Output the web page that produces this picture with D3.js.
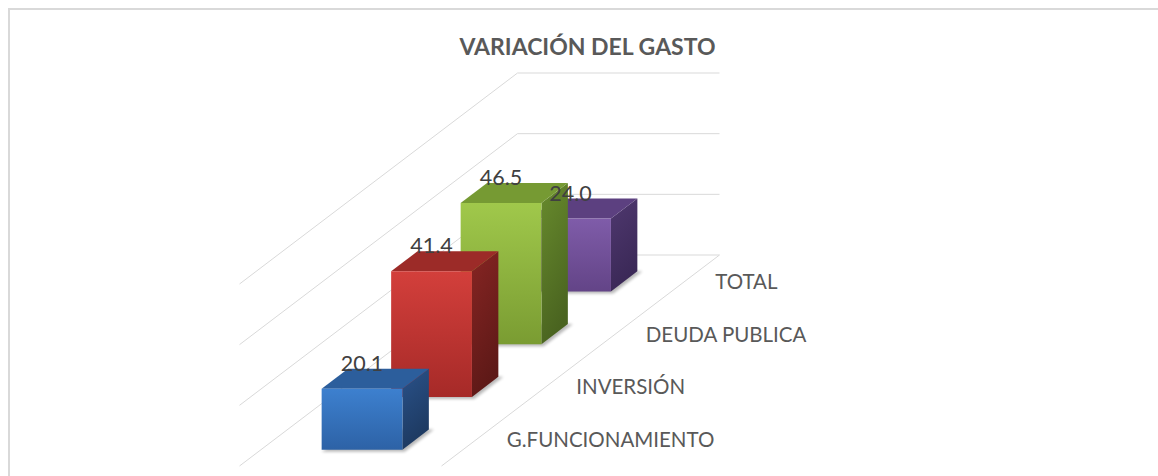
<!DOCTYPE html>
<html>
<head>
<meta charset="utf-8">
<script src="https://cdn.jsdelivr.net/npm/d3@7/dist/d3.min.js"></script>
<style>
  html, body { margin: 0; padding: 0; background: #fff; }
  svg { display: block; }
</style>
</head>
<body>
<svg id="chart" width="1158" height="476"></svg>
<script>
// ---- data ----
const title = "VARIACIÓN DEL GASTO";
const categories = ["G.FUNCIONAMIENTO", "INVERSIÓN", "DEUDA PUBLICA", "TOTAL"];
const values = [20.1, 41.4, 46.5, 24.0];
const tickValues = [0, 20, 40, 60];

// ---- styles ----
const palette = [
  { front: ["#3D80CF", "#2D62A6"], top: "#2C5E9C", side: ["#2A528A", "#1D3960"] },
  { front: ["#D33F3B", "#A62A28"], top: "#9C2B28", side: ["#862523", "#5E1917"] },
  { front: ["#A0C84B", "#7A9C32"], top: "#769A33", side: ["#688B2D", "#4A6420"] },
  { front: ["#7F5CA9", "#634487"], top: "#5C4080", side: ["#4F386F", "#3A2856"] }
];

const svg = d3.select("#chart");
const defs = svg.append("defs");

// frame
svg.append("rect")
  .attr("x", 9).attr("y", 9).attr("width", 1300).attr("height", 600)
  .attr("fill", "#fff").attr("stroke", "#d9d9d9").attr("stroke-width", 2);

// projection geometry
const O = { x: 239.5, y: 466 };   // front-left corner of floor
const floorW = 202;               // floor width (px)
const DX = 69.5, DY = 52.75;      // screen offset per depth slot

const yH = d3.scaleLinear().domain([0, 60]).range([0, 182]);
const depth = d3.scaleBand().domain(categories).range([0, categories.length])
  .paddingInner(0.62).paddingOuter(0.31);
const wScale = d3.scaleLinear().domain([0, 1]).range([0, floorW]);

function P(w, d, h) { return [O.x + w + d * DX, O.y - d * DY - h]; }
const line = d3.line();

const nSlots = categories.length;

// gridlines (back wall + side wall)
const grid = svg.append("g").attr("fill", "none").attr("stroke", "#d9d9d9").attr("stroke-width", 1);
tickValues.forEach(t => {
  const h = yH(t);
  grid.append("path").attr("d", line([P(0, 0, h), P(0, nSlots, h), P(floorW, nSlots, h)]));
});
// floor right edge
grid.append("path").attr("d", line([P(floorW, 0, 0), P(floorW, nSlots, 0)]));

// shadow filter
const filt = defs.append("filter").attr("id", "sh").attr("x", "-20%").attr("y", "-20%").attr("width", "140%").attr("height", "140%");
filt.append("feGaussianBlur").attr("stdDeviation", 1.6);

// gradients
palette.forEach((p, i) => {
  const gf = defs.append("linearGradient").attr("id", "gf" + i).attr("x1", 0).attr("y1", 0).attr("x2", 0).attr("y2", 1);
  gf.append("stop").attr("offset", "0%").attr("stop-color", p.front[0]);
  gf.append("stop").attr("offset", "100%").attr("stop-color", p.front[1]);
  const gs = defs.append("linearGradient").attr("id", "gs" + i).attr("x1", 0).attr("y1", 0).attr("x2", 0.3).attr("y2", 1);
  gs.append("stop").attr("offset", "0%").attr("stop-color", p.side[0]);
  gs.append("stop").attr("offset", "100%").attr("stop-color", p.side[1]);
});

const bars = svg.append("g");
const w0 = wScale(0.3), w1 = wScale(0.7);
// draw back to front
const order = d3.range(categories.length).reverse();
order.forEach(i => {
  const c = categories[i];
  const d0 = depth(c), d1 = d0 + depth.bandwidth();
  const h = yH(values[i]);
  const g = bars.append("g");
  // shadow on floor
  g.append("path")
    .attr("d", line([P(w0 + 3, d0 - 0.04, 0), P(w1 + 5, d0 - 0.04, 0), P(w1 + 5, d1, 0), P(w0 + 3, d1, 0)]) + "Z")
    .attr("fill", "#000").attr("opacity", 0.28).attr("filter", "url(#sh)");
  // side face
  g.append("path")
    .attr("d", line([P(w1, d0, 0), P(w1, d1, 0), P(w1, d1, h), P(w1, d0, h)]) + "Z")
    .attr("fill", "url(#gs" + i + ")");
  // top face
  g.append("path")
    .attr("d", line([P(w0, d0, h), P(w1, d0, h), P(w1, d1, h), P(w0, d1, h)]) + "Z")
    .attr("fill", palette[i].top);
  // front face
  g.append("path")
    .attr("d", line([P(w0, d0, 0), P(w1, d0, 0), P(w1, d0, h), P(w0, d0, h)]) + "Z")
    .attr("fill", "url(#gf" + i + ")");
});

// data labels (drawn after all bars)
const labels = svg.append("g")
  .attr("font-family", "Lato, 'Open Sans', sans-serif")
  .attr("font-size", 21.5).attr("fill", "#404040").attr("text-anchor", "middle");
categories.forEach((c, i) => {
  const d0 = depth(c), d1 = d0 + depth.bandwidth();
  const h = yH(values[i]);
  const fx = P((w0 + w1) / 2, d0, h)[0];
  const by = P(0, d1, h)[1] + 2;
  labels.append("text").attr("x", fx).attr("y", by).text(values[i].toFixed(1));
});

// category (depth axis) labels
const cats = svg.append("g")
  .attr("font-family", "Lato, 'Open Sans', sans-serif")
  .attr("font-size", 20.5).attr("fill", "#595959").attr("text-anchor", "start");
categories.forEach((c, i) => {
  const dc = depth(c) + depth.bandwidth() / 2;
  const p = P(floorW, dc, 0);
  cats.append("text").attr("x", p[0] + 30.5).attr("y", p[1] + 7.5).text(c);
});

// title
svg.append("text")
  .attr("x", 587.5).attr("y", 55)
  .attr("text-anchor", "middle")
  .attr("font-family", "Lato, 'Open Sans', sans-serif")
  .attr("font-weight", "bold").attr("font-size", 23).attr("fill", "#595959")
  .text(title);
</script>
</body>
</html>
